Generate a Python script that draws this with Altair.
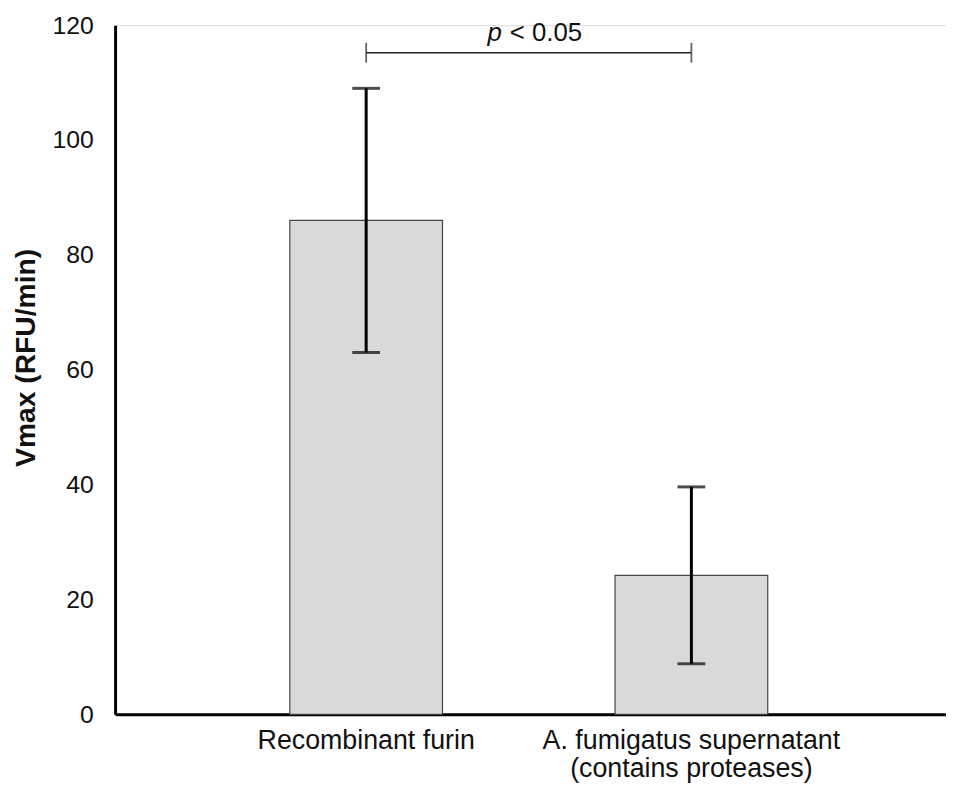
import altair as alt
import pandas as pd

# ---- data ----
categories = ["Recombinant furin", "A. fumigatus supernatant\n(contains proteases)"]
means = [86.0, 24.2]
errors = [23.0, 15.4]          # +/- error bar half-lengths
y_ticks = [0, 20, 40, 60, 80, 100, 120]
sig_label_p = "p"
sig_label_rest = "< 0.05"
sig_y = 115.2                  # height of the significance bracket
sig_text_y = 117.3

W, H = 838, 695
FONT = "Liberation Sans"

df = pd.DataFrame({
    "cat": categories,
    "mean": means,
    "lo": [m - e for m, e in zip(means, errors)],
    "hi": [m + e for m, e in zip(means, errors)],
})
br = pd.DataFrame({"c1": [categories[0]], "c2": [categories[1]], "y": [sig_y]})
ends = pd.DataFrame({"cat": categories, "y": [sig_y, sig_y]})
txt = pd.DataFrame({"y": [sig_text_y]})

xscale = alt.Scale(type="band", domain=categories, paddingInner=0.5305,
                   paddingOuter=0.5427, align=0.495)
yscale = alt.Scale(domain=[0, 120], nice=False)

xaxis = alt.Axis(title=None, labelExpr="split(datum.value, '\\n')",
                 labelFontSize=27, labelLineHeight=29, labelPadding=13,
                 labelLimit=0, labelColor="#111", labelFont=FONT, ticks=False,
                 domainColor="#000", domainWidth=3, labelAngle=0)
yaxis = alt.Axis(title="Vmax (RFU/min)", values=y_ticks, grid=False, ticks=False,
                 labelFontSize=25, labelColor="#111", labelFont=FONT, labelPadding=22,
                 domainColor="#000", domainWidth=3,
                 titleFont=FONT, titleFontSize=28.5, titleFontWeight="bold",
                 titleColor="#111", titlePadding=12, titleY=335)

base = alt.Chart(df)

bars = base.mark_bar(fill="#d9d9d9", stroke="#444", strokeWidth=1.2).encode(
    x=alt.X("cat:N", scale=xscale, axis=xaxis, sort=categories),
    y=alt.Y("mean:Q", scale=yscale, axis=yaxis),
)
err = base.mark_rule(color="#000", strokeWidth=3).encode(
    x=alt.X("cat:N", sort=categories), y="lo:Q", y2="hi:Q")
cap_hi = base.mark_tick(color="#000", size=28, thickness=3, orient="horizontal").encode(
    x=alt.X("cat:N", sort=categories), y="hi:Q")
cap_lo = base.mark_tick(color="#000", size=28, thickness=3, orient="horizontal").encode(
    x=alt.X("cat:N", sort=categories), y="lo:Q")

bracket = alt.Chart(br).mark_rule(color="#222", strokeWidth=1.6).encode(
    x=alt.X("c1:N", bandPosition=0.5, sort=categories),
    x2=alt.X2("c2:N", bandPosition=0.5),
    y="y:Q")
bracket_ends = alt.Chart(ends).mark_tick(color="#222", size=20, thickness=1.8,
                                         orient="vertical").encode(
    x=alt.X("cat:N", sort=categories), y="y:Q")

p_text = alt.Chart(txt).mark_text(text=sig_label_p, font=FONT, fontSize=26,
                                  fontStyle="italic", align="right",
                                  baseline="alphabetic", dx=-29, color="#111").encode(
    x=alt.value(W / 2), y="y:Q")
rest_text = alt.Chart(txt).mark_text(text=sig_label_rest, font=FONT, fontSize=26,
                                     align="left", baseline="alphabetic", dx=-21,
                                     color="#111").encode(
    x=alt.value(W / 2), y="y:Q")

chart = alt.layer(bars, err, cap_hi, cap_lo, bracket, bracket_ends, p_text, rest_text).properties(
    width=W, height=H,
    autosize=alt.AutoSizeParams(type="none"),
    padding={"left": 108, "top": 14, "right": 0, "bottom": 70},
).configure_view(stroke=None).configure(background="white")

chart.save("out.html", embed_options={"renderer": "svg", "actions": False})
